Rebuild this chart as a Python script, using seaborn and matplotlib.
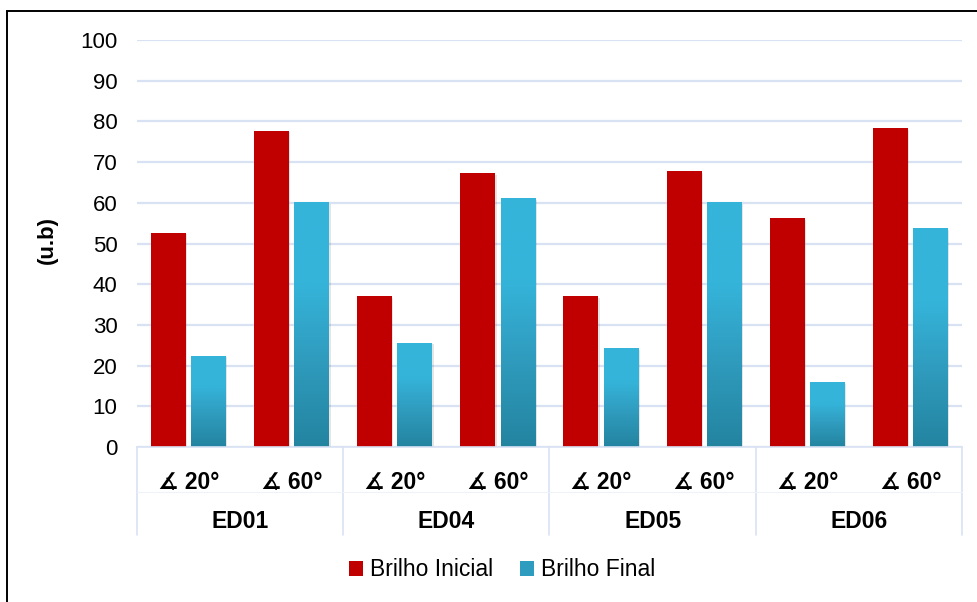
import matplotlib
matplotlib.use("Agg")
import matplotlib.pyplot as plt
import seaborn as sns
import numpy as np
import pandas as pd
from matplotlib.patches import Patch, Rectangle
from matplotlib.colors import LinearSegmentedColormap
import matplotlib.transforms as mtransforms

# data
groups = ["ED01", "ED04", "ED05", "ED06"]
angles = ["∡ 20°", "∡ 60°"]
series = ["Brilho Inicial", "Brilho Final"]
brilho_inicial = [52.7, 77.7, 37.1, 67.3, 37.1, 67.8, 56.2, 78.3]
brilho_final = [22.4, 60.2, 25.6, 61.2, 24.3, 60.2, 16.0, 53.8]

slots = [f"{g}|{a}" for g in groups for a in angles]
df = pd.DataFrame({
    "slot": slots * 2,
    "serie": [series[0]] * len(slots) + [series[1]] * len(slots),
    "valor": brilho_inicial + brilho_final,
})

sns.set_style("white")
plt.rcParams["font.family"] = ["Liberation Sans", "DejaVu Sans"]
plt.rcParams["text.color"] = "black"
plt.rcParams["axes.labelcolor"] = "black"
plt.rcParams["xtick.color"] = "black"
plt.rcParams["ytick.color"] = "black"

red = "#C00000"
blue_top = "#35B4DA"
blue_bot = "#2384A0"
grid_c = "#D9E2F3"

fig = plt.figure(figsize=(9.78, 6.02), dpi=100)
ax = fig.add_axes([137 / 978, 1 - 447 / 602, 825 / 978, 407 / 602])

sns.barplot(data=df, x="slot", y="valor", hue="serie", order=slots,
            hue_order=series, palette=[red, blue_bot], width=0.78, gap=0.13,
            saturation=1, legend=False, ax=ax, edgecolor="none", linewidth=0)

# gradient for the "Brilho Final" bars
cmap = LinearSegmentedColormap.from_list("bf", [blue_bot, "#2F9ABC", blue_top, blue_top])
grad = np.linspace(0, 1, 256).reshape(-1, 1)
for bar in ax.containers[1]:
    x0, w, h = bar.get_x(), bar.get_width(), bar.get_height()
    bar.set_facecolor("none")
    im = ax.imshow(grad, cmap=cmap, origin="lower", aspect="auto",
                   extent=[x0, x0 + w, 0, h], zorder=bar.get_zorder())
    im.set_clip_path(bar)

# subtle shadow behind bars
for cont in ax.containers:
    for bar in cont:
        sh = Rectangle((bar.get_x() + 0.012, 0), bar.get_width(), bar.get_height() - 0.4,
                       facecolor="#000000", alpha=0.10, zorder=bar.get_zorder() - 0.1,
                       edgecolor="none")
        ax.add_patch(sh)

ax.set_xlim(-0.5, len(slots) - 0.5)
ax.set_ylim(0, 100)
ax.set_yticks(range(0, 101, 10))
ax.yaxis.grid(True, color=grid_c, linewidth=1.6)
ax.set_axisbelow(True)
for s in ["top", "right", "left"]:
    ax.spines[s].set_visible(False)
ax.spines["bottom"].set_color(grid_c)
ax.spines["bottom"].set_linewidth(1.2)

ax.tick_params(axis="y", length=0, pad=14, labelsize=16)
ax.tick_params(axis="x", length=0, pad=17, labelsize=16.5)
ax.set_xticks(range(len(slots)))
ax.set_xticklabels([s.split("|")[1] for s in slots], fontweight="bold")
ax.set_xlabel("")
ax.set_ylabel("(u.b)", fontsize=16, fontweight="bold")
ax.yaxis.set_label_coords(-0.0958, 0.5086)

# category table below the axis
trans = mtransforms.blended_transform_factory(ax.transData, ax.transAxes)
for xv in np.arange(-0.5, len(slots), 2):
    ax.plot([xv, xv], [0, -0.216], transform=trans, color=grid_c,
            linewidth=1.2, clip_on=False)
ax.plot([-0.5, len(slots) - 0.5], [-0.111, -0.111], transform=trans,
        color="#EEF2F9", linewidth=0.8, clip_on=False)
for i, g in enumerate(groups):
    ax.text(2 * i + 0.5, -0.182, g, transform=trans, ha="center", va="center",
            fontsize=16.5, fontweight="bold")

handles = [Patch(facecolor=red, edgecolor="none"),
           Patch(facecolor="#2D9CBE", edgecolor="none")]
fig.legend(handles, series, loc="center", bbox_to_anchor=(502 / 978, 1 - 570 / 602),
           ncol=2, frameon=False, fontsize=16.5, handlelength=0.6,
           handleheight=0.6, handletextpad=0.3, columnspacing=1.2)

# outer frame, clipped on the right and bottom like the original
fig.patches.append(Rectangle((7.5 / 978, -0.1), 1.2, 1 - 10.5 / 602 + 0.1,
                             transform=fig.transFigure, fill=False,
                             edgecolor="black", linewidth=1.4))

fig.savefig("out.png", dpi=100)
